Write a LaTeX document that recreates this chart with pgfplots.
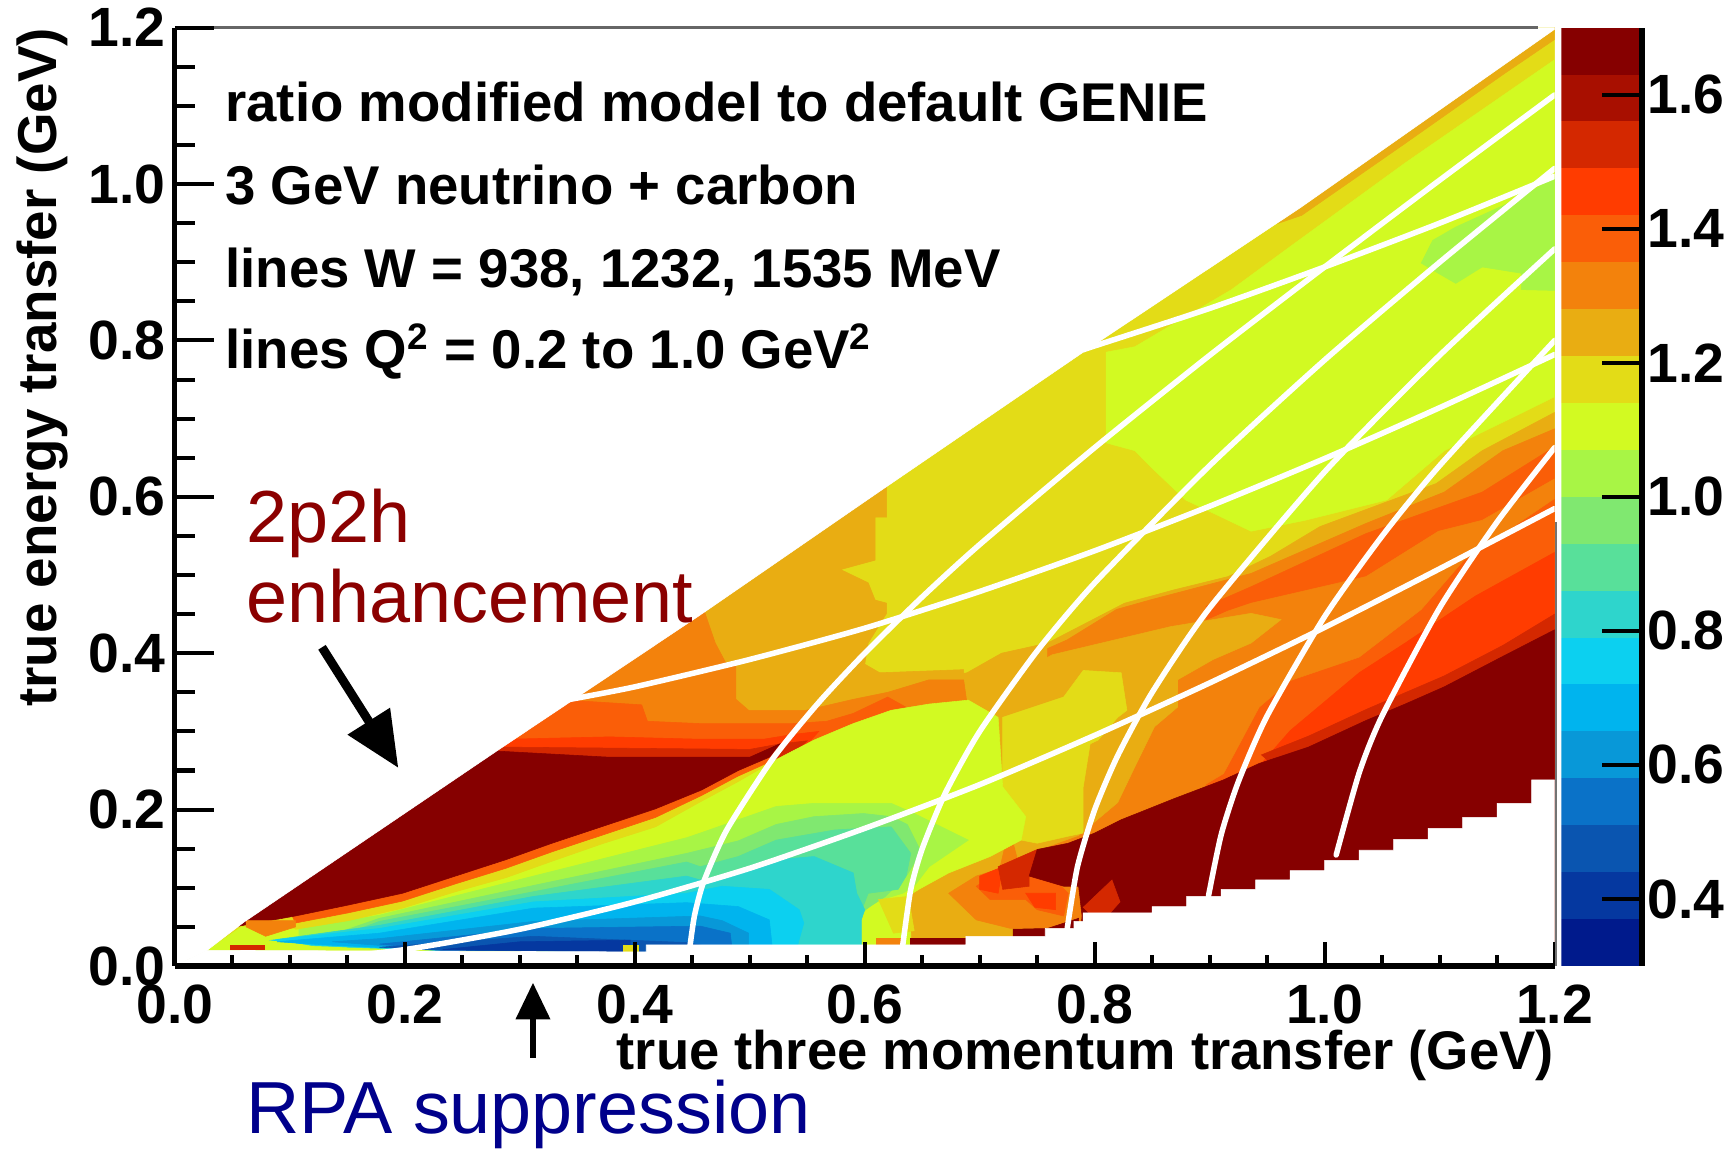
\documentclass[border=0pt]{standalone}
\usepackage{fontspec}
\setmainfont{Liberation Sans}
\usepackage{pgfplots}
\pgfplotsset{compat=1.18}
\usetikzlibrary{arrows.meta}
\definecolor{c1}{HTML}{860000}
\definecolor{c2}{HTML}{A80F00}
\definecolor{c3}{HTML}{D42800}
\definecolor{c4}{HTML}{FF3C00}
\definecolor{c5}{HTML}{FA5E08}
\definecolor{c6}{HTML}{F3820C}
\definecolor{c7}{HTML}{E9AD12}
\definecolor{c8}{HTML}{E3DC17}
\definecolor{c9}{HTML}{D2FA22}
\definecolor{c10}{HTML}{A8F545}
\definecolor{c11}{HTML}{80E870}
\definecolor{c12}{HTML}{58E09A}
\definecolor{c13}{HTML}{2ED5CC}
\definecolor{c14}{HTML}{0CD0F0}
\definecolor{c15}{HTML}{00B4EE}
\definecolor{c16}{HTML}{0898D8}
\definecolor{c17}{HTML}{0A72C8}
\definecolor{c18}{HTML}{0A55B0}
\definecolor{c19}{HTML}{0538A0}
\definecolor{c20}{HTML}{001A8C}
\newcommand\poly[2]{\addplot[fill=#1,draw=#1,line width=0.15pt,forget plot] coordinates {#2} --cycle;}
\newcommand\band[3]{\addplot[fill=#1,draw=none,forget plot] coordinates {(0,#2)(1,#2)(1,#3)(0,#3)} --cycle;}
\newcommand\wl[1]{\addplot[white,line width=1.5pt,line join=round,line cap=round,smooth,tension=0.4,forget plot] coordinates {#1};}
\newcommand\tfont{\fontsize{15}{15}\bfseries\selectfont}
\pgfplotsset{common/.style={scale only axis,anchor=south west,
  tick align=inside,
  tick label style={font=\tfont},
  /pgf/number format/assume math mode=true,
  /pgf/number format/fixed,/pgf/number format/fixed zerofill,/pgf/number format/precision=1,
  axis line style={-,line width=1.4pt,black},
  tick style={black,line width=1.1pt}}}
\begin{document}
\begin{tikzpicture}[x=1pt,y=1pt]
\useasboundingbox (0,0) rectangle (470.4,311.4);
% ---- main map
\begin{axis}[common,at={(47.4pt,49.5pt)},width=374.1pt,height=254.4pt,
  xmin=0,xmax=1.2,ymin=0,ymax=1.2,axis on top,
  axis x line*=bottom,hide y axis,ytick=\empty,
  xtick={0,0.2,0.4,0.6,0.8,1.0,1.2},minor x tick num=3,
  major tick length=6.6pt,minor tick length=3pt,
  xticklabel style={inner sep=0pt,yshift=-4.8pt}]
\poly{c8}{(0,0)(1.2,0)(1.2,1.2)(0,1.2)}
% central plateau
\poly{c9}{(.810,.785)(.835,.792)(.919,.865)(.970,.920)(1.070,1.027)(1.2,1.159)(1.2,.728)(1.171,.707)(1.104,.659)(1.054,.596)(.983,.570)(.936,.556)(.879,.596)(.849,.638)(.835,.659)(.810,.669)}
\poly{c10}{(1.084,.899)(1.094,.928)(1.114,.945)(1.171,.983)(1.2,1.009)(1.2,.864)(1.171,.865)(1.171,.886)(1.137,.894)(1.114,.873)(1.094,.890)}
\poly{c7}{(.96,.95)(1.2,1.2)(1.2,1.185)(1.155,1.14)(1.07,1.052)(.98,.96)}
% upper left shoulder and right-hand stripes
\poly{c7}{(.344,.358)(.619,.613)(.619,.574)(.609,.574)(.609,.519)(.579,.507)(.603,.490)(.609,.468)(.619,.464)(.619,.451)(.603,.413)(.600,.386)(.613,.375)(.686,.379)(.689,.245)(.233,.174)}
\poly{c7}{(1.2,.708)(1.137,.659)(1.097,.617)(.996,.562)(.953,.524)(.916,.498)(.869,.481)(.849,.473)(.826,.464)(.759,.413)(.719,.400)(.689,.375)(.618,.351)(.618,.018)(1.2,.018)}
\poly{c6}{(1.2,.687)(1.155,.659)(1.104,.606)(1.036,.566)(.936,.502)(.848,.468)(.819,.456)(.776,.417)(.759,.406)(.759,.386)(.714,.103)(.810,.018)(1.2,.018)}
\poly{c5}{(1.2,.664)(1.137,.606)(1.036,.553)(.936,.485)(.897,.460)(.897,.216)(1.2,.2)}
\poly{c6}{(.916,.454)(.936,.464)(1.036,.498)(1.099,.556)(1.137,.570)(1.2,.623)(1.2,.598)(1.121,.519)(1.084,.456)(1.030,.395)(.970,.365)(.943,.331)(.923,.276)(.912,.246)(.887,.224)(.801,.146)(.733,.132)(.810,.386)}
\poly{c7}{(.763,.398)(.866,.434)(.936,.451)(.962,.443)(.936,.413)(.903,.392)(.872,.366)(.872,.331)(.852,.306)(.835,.255)(.820,.209)(.786,.167)(.733,.139)(.714,.245)(.714,.358)}
\poly{c8}{(.720,.318)(.773,.344)(.790,.378)(.823,.375)(.828,.327)(.820,.318)(.803,.289)(.796,.284)(.790,.229)(.790,.170)(.777,.166)(.750,.157)(.736,.161)(.740,.191)(.720,.229)}
\poly{c6}{(.341,.340)(.459,.46)(.470,.413)(.479,.388)(.488,.383)(.488,.341)(.499,.327)(.549,.327)(.590,.341)(.620,.350)(.656,.366)(.686,.366)(.695,.273)(.522,.216)(.281,.259)}
\poly{c5}{(.341,.340)(.406,.334)(.411,.313)(.457,.310)(.537,.310)(.567,.313)(.590,.323)(.620,.344)(.637,.330)(.541,.245)(.271,.259)(.300,.316)}
\poly{c4}{(.289,.290)(.378,.293)(.457,.290)(.512,.290)(.537,.296)(.560,.300)(.531,.252)(.271,.259)}
\poly{c3}{(.281,.280)(.500,.277)(.526,.284)(.550,.288)(.522,.252)(.271,.259)}
% lime lobe and RPA valley
\poly{c9}{(.028,.02)(.058,.05)(.078,.05)(.105,.047)(.151,.058)(.198,.074)(.244,.095)(.288,.113)(.328,.134)(.371,.156)(.418,.178)(.457,.21)(.49,.236)(.523,.264)(.556,.289)(.590,.310)(.623,.327)(.656,.335)(.690,.340)(.716,.318)(.720,.229)(.740,.191)(.736,.161)(.709,.140)(.673,.119)(.647,.098)(.633,.085)(.640,.042)(.640,.018)(.089,.018)}
\poly{c10}{(.108,.047)(.178,.065)(.312,.115)(.445,.164)(.457,.170)(.490,.187)(.523,.204)(.556,.208)(.623,.208)(.643,.195)(.690,.161)(.656,.127)(.643,.102)(.633,.093)(.608,.082)(.589,.054)(.579,.018)(.233,.021)(.137,.028)(.108,.038)}
\poly{c11}{(.127,.035)(.178,.061)(.312,.103)(.445,.144)(.490,.160)(.523,.181)(.556,.191)(.599,.195)(.623,.191)(.637,.181)(.649,.146)(.637,.117)(.618,.089)(.589,.061)(.579,.018)(.233,.02)(.137,.025)}
\poly{c12}{(.137,.035)(.178,.057)(.312,.095)(.445,.133)(.457,.127)(.490,.140)(.523,.161)(.574,.174)(.623,.178)(.640,.144)(.636,.115)(.629,.098)(.603,.093)(.594,.059)(.590,.018)(.233,.02)(.15,.024)}
\poly{c13}{(.089,.034)(.178,.052)(.312,.089)(.445,.115)(.457,.110)(.490,.119)(.523,.136)(.556,.140)(.590,.119)(.593,.093)(.600,.072)(.597,.059)(.597,.018)(.233,.02)(.12,.026)}
\poly{c14}{(.084,.033)(.178,.048)(.312,.082)(.445,.093)(.476,.102)(.517,.098)(.543,.072)(.547,.055)(.540,.018)(.233,.02)(.12,.027)}
\poly{c15}{(.089,.031)(.178,.042)(.312,.074)(.445,.081)(.490,.076)(.517,.059)(.520,.018)(.233,.02)(.13,.027)}
\poly{c16}{(.137,.031)(.178,.035)(.312,.057)(.457,.064)(.476,.058)(.499,.042)(.499,.018)(.233,.02)}
\poly{c17}{(.178,.028)(.312,.048)(.457,.051)(.483,.042)(.485,.018)(.233,.02)}
\poly{c18}{(.178,.024)(.312,.038)(.445,.03)(.464,.025)(.464,.018)(.233,.02)}
\poly{c19}{(.233,.021)(.300,.031)(.396,.033)(.396,.018)}
\poly{c8}{(.612,.085)(.638,.089)(.643,.045)(.625,.042)}
% thin stripes under the 2p2h wedge
\poly{c8}{(.10,.07)(.517,.267)(.523,.264)(.49,.236)(.457,.21)(.418,.178)(.371,.156)(.328,.134)(.288,.113)(.244,.095)(.198,.074)(.151,.058)(.105,.047)}
\poly{c5}{(.10,.07)(.517,.267)(.522,.264)(.49,.243)(.458,.218)(.418,.190)(.371,.167)(.328,.146)(.288,.125)(.244,.105)(.198,.083)(.151,.068)(.105,.055)}
% low-W lower-right patches
\poly{c6}{(.673,.093)(.697,.115)(.723,.127)(.750,.140)(.777,.085)(.777,.048)(.727,.048)(.697,.059)}
\poly{c5}{(.697,.102)(.720,.123)(.750,.132)(.777,.093)(.773,.064)(.750,.072)(.740,.085)(.709,.085)}
\poly{c4}{(.700,.115)(.720,.127)(.716,.093)(.700,.098)}
\poly{c4}{(.740,.093)(.766,.093)(.766,.072)(.748,.075)}
\poly{c3}{(.716,.127)(.750,.149)(.743,.115)(.743,.102)(.720,.098)}
\poly{c4}{(1.2,.529)(1.131,.473)(1.070,.413)(1.030,.375)(.970,.301)(.945,.259)(1.2,.2)}
\poly{c3}{(1.2,.45)(1.155,.410)(1.104,.371)(1.036,.328)(.986,.294)(.945,.270)(1.0,.2)(1.2,.2)}
% saturated regions
\poly{c1}{(.052,.05)(.278,.275)(.378,.267)(.457,.267)(.500,.267)(.526,.284)(.517,.267)(.490,.250)(.458,.225)(.418,.201)(.371,.178)(.328,.157)(.288,.136)(.244,.115)(.198,.093)(.151,.078)(.105,.064)}
\poly{c1}{(1.2,.430)(1.155,.396)(1.104,.357)(1.070,.335)(1.036,.314)(.986,.280)(.943,.259)(.912,.238)(.869,.214)(.823,.187)(.800,.170)(.777,.157)(.750,.149)(.743,.115)(.773,.102)(.786,.102)(.789,.064)(.786,.018)(1.2,.018)}
\poly{c1}{(.729,.047)(.759,.048)(.786,.061)(.786,.02)(.729,.02)}
\poly{c3}{(.790,.075)(.815,.110)(.822,.082)(.805,.054)}
% details at the bottom of the map
\poly{c6}{(.062,.058)(.105,.058)(.105,.05)(.079,.038)(.062,.05)}
\poly{c3}{(.048,.021)(.078,.021)(.078,.027)(.048,.027)}
\poly{c8}{(.39,.018)(.403,.018)(.403,.027)(.39,.027)}
\poly{c6}{(.61,.027)(.633,.027)(.633,.035)(.61,.035)}
\poly{c1}{(.64,.027)(.688,.027)(.688,.035)(.64,.035)}
% outside the kinematic limits
\poly{white}{(0,0)(.028,.02)(.06,.056)(.28,.275)(.341,.335)(.459,.451)(.609,.603)(.792,.787)(.98,.971)(1.2,1.198)(1.2,1.2)(0,1.2)}
\poly{white}{(0,0)(.028,.02)(.41,.018)(.41,.027)(.688,.027)(.688,.038)(.757,.038)(.757,.048)(.782,.048)(.782,.057)(.79,.057)(.79,.068)(.85,.068)(.85,.076)(.88,.076)(.88,.089)(.91,.089)(.91,.098)(.94,.098)(.94,.11)(.97,.11)(.97,.122)(1,.122)(1,.135)(1.03,.135)(1.03,.148)(1.06,.148)(1.06,.162)(1.09,.162)(1.09,.176)(1.12,.176)(1.12,.19)(1.15,.19)(1.15,.208)(1.18,.208)(1.18,.238)(1.2,.238)(1.2,0)}
% W lines
\wl{(.05,.001)(.1,.005)(.2,.021)(.3,.047)(.4,.082)(.5,.125)(.6,.176)(.7,.232)(.8,.295)(.9,.362)(1,.433)(1.1,.508)(1.2,.585)}
\wl{(.34,.34)(.4,.357)(.5,.392)(.6,.432)(.7,.479)(.8,.531)(.9,.588)(1,.649)(1.1,.714)(1.2,.782)}
\wl{(.79,.788)(.8,.793)(.9,.841)(1,.894)(1.1,.95)(1.2,1.01)}
% Q2 lines
\wl{(.448,.025)(.452,.065)(.46,.108)(.48,.174)(.52,.265)(.56,.337)(.6,.4)(.65,.472)(.7,.539)(.8,.663)(.9,.781)(1,.894)(1.1,1.005)(1.2,1.114)}
\wl{(.633,.026)(.64,.098)(.65,.15)(.67,.221)(.7,.3)(.75,.403)(.8,.49)(.9,.64)(1,.775)(1.1,.9)(1.2,1.02)}
\wl{(.776,.047)(.785,.127)(.8,.2)(.82,.269)(.85,.35)(.9,.458)(1,.632)(1.1,.781)(1.2,.917)}
\wl{(.899,.09)(.91,.168)(.925,.236)(.95,.32)(1,.447)(1.05,.55)(1.1,.64)(1.2,.8)}
\wl{(1.01,.142)(1.03,.247)(1.05,.32)(1.1,.458)(1.15,.568)(1.2,.663)}
\end{axis}
% ---- y axis of the map
\begin{axis}[common,at={(47.4pt,49.5pt)},width=374.1pt,height=254.4pt,
  xmin=0,xmax=1.2,ymin=0,ymax=1.2,
  axis y line*=left,hide x axis,xtick=\empty,
  ytick={0,0.2,0.4,0.6,0.8,1.0,1.2},minor y tick num=3,
  major tick length=10.5pt,minor tick length=5.4pt,
  yticklabel style={inner sep=0pt,xshift=-2.4pt}]
\end{axis}
% ---- colour scale
\begin{axis}[common,at={(423.3pt,49.5pt)},width=21.9pt,height=254.4pt,
  xmin=0,xmax=1,ymin=0.3,ymax=1.7,
  axis y line*=right,hide x axis,xtick=\empty,
  ytick={0.4,0.6,0.8,1.0,1.2,1.4,1.6},
  major tick length=10.8pt,
  axis on top,
  yticklabel style={inner sep=0pt,xshift=1.2pt}]
\band{c20}{.30}{.37}\band{c19}{.37}{.44}\band{c18}{.44}{.51}\band{c17}{.51}{.58}
\band{c16}{.58}{.65}\band{c15}{.65}{.72}\band{c14}{.72}{.79}\band{c13}{.79}{.86}
\band{c12}{.86}{.93}\band{c11}{.93}{1.00}\band{c10}{1.00}{1.07}\band{c9}{1.07}{1.14}
\band{c8}{1.14}{1.21}\band{c7}{1.21}{1.28}\band{c6}{1.28}{1.35}\band{c5}{1.35}{1.42}
\band{c4}{1.42}{1.49}\band{c3}{1.49}{1.56}\band{c2}{1.56}{1.63}\band{c1}{1.63}{1.70}
\end{axis}
% ---- frame, texts and arrows
\draw[black!60,line width=0.7pt] (58,303.9)--(417,303.9);
\draw[black!55,line width=0.5pt] (421.9,49.5)--(421.9,170);
\node[anchor=base west,inner sep=0pt,font=\fontsize{14.8}{15}\bfseries\selectfont] at (60.9,278.4) {ratio modified model to default GENIE};
\node[anchor=base west,inner sep=0pt,font=\fontsize{14.8}{15}\bfseries\selectfont] at (60.9,255.9) {3 GeV neutrino + carbon};
\node[anchor=base west,inner sep=0pt,font=\fontsize{14.8}{15}\bfseries\selectfont] at (60.9,233.4) {lines W = 938, 1232, 1535 MeV};
\node[anchor=base west,inner sep=0pt,font=\fontsize{14.8}{15}\bfseries\selectfont] at (60.9,211.5) {lines Q\textsuperscript{\fontsize{10}{10}\selectfont 2} = 0.2 to 1.0 GeV\textsuperscript{\fontsize{10}{10}\selectfont 2}};
\node[anchor=base east,inner sep=0pt,font=\fontsize{14.75}{15}\bfseries\selectfont] at (421.5,21.4) {true three momentum transfer (GeV)};
\node[anchor=base east,rotate=90,inner sep=0pt,font=\fontsize{14.85}{15}\bfseries\selectfont] at (15.3,304) {true energy transfer (GeV)};
\definecolor{dred}{HTML}{8B0000}\definecolor{dblue}{HTML}{00008B}
\node[anchor=base west,inner sep=0pt,text=dred,font=\fontsize{20}{20}\selectfont] at (66.6,164.4) {2p2h};
\node[anchor=base west,inner sep=0pt,text=dred,font=\fontsize{20}{20}\selectfont] at (66.6,142.5) {enhancement};
\node[anchor=base west,inner sep=0pt,text=dblue,font=\fontsize{20}{20}\selectfont] at (66.6,4.2) {RPA suppression};
\draw[line width=2.4pt,-{Triangle[length=15pt,width=13pt]}] (87.3,135.9)--(108,103.2);
\draw[line width=1.8pt,-{Triangle[length=10pt,width=9pt]}] (144.5,24.6)--(144.5,45);
\end{tikzpicture}
\end{document}
